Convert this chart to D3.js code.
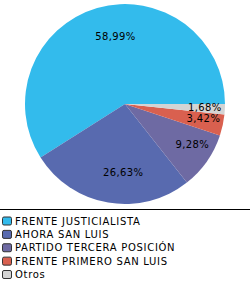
<!DOCTYPE html>
<html>
<head>
<meta charset="utf-8">
<script src="https://cdn.jsdelivr.net/npm/d3@7"></script>
<style>
  body { margin: 0; background: #fff; }
  svg { display: block; }
  text { font-family: Verdana, "DejaVu Sans", sans-serif; font-size: 10px; fill: #000; }
  .slice-label { letter-spacing: 0.4px; }
  .legend-label { letter-spacing: 0.7px; }
</style>
</head>
<body>
<div class="chart"></div>
<script>
// values
const parties = ["FRENTE JUSTICIALISTA", "AHORA SAN LUIS", "PARTIDO TERCERA POSICIÓN", "FRENTE PRIMERO SAN LUIS", "Otros"];
const shares = [58.99, 26.63, 9.28, 3.42, 1.68];
const colors = ["#33bbec", "#586aaf", "#6e6aa3", "#d9604f", "#d4d4d4"];

const width = 250, height = 285;
const cx = 125, cy = 104, radius = 100;

const fmt = v => d3.format(".2f")(v).replace(".", ",") + "%";

const scaleColor = d3.scaleOrdinal().domain(parties).range(colors);

const svg = d3.select(".chart")
    .append("svg")
    .attr("width", width)
    .attr("height", height);

// slices start at 3 o'clock and run counter-clockwise
const pie = d3.pie()
    .sort(null)
    .startAngle(Math.PI / 2)
    .endAngle(Math.PI / 2 - 2 * Math.PI)
    .value(d => d.value);

const arcs = pie(parties.map((p, i) => ({name: p, value: shares[i]})));

const arc = d3.arc().innerRadius(0).outerRadius(radius);
const labelArc = d3.arc().innerRadius(radius * 0.7).outerRadius(radius * 0.7);

const g = svg.append("g")
    .attr("transform", "translate(" + cx + "," + cy + ")");

g.selectAll("path")
    .data(arcs)
    .enter()
    .append("path")
    .attr("d", arc)
    .attr("fill", d => scaleColor(d.data.name));

g.selectAll("text")
    .data(arcs)
    .enter()
    .append("text")
    .attr("class", "slice-label")
    .text(d => fmt(d.data.value))
    .attr("x", d => labelArc.centroid(d)[0] + 10)
    .attr("y", d => labelArc.centroid(d)[1])
    .attr("text-anchor", "middle")
    .attr("dominant-baseline", "central");

// legend
svg.append("line")
    .attr("x1", 0)
    .attr("x2", width)
    .attr("y1", 209.5)
    .attr("y2", 209.5)
    .attr("stroke", "#000")
    .attr("stroke-width", 1);

const legend = svg.append("g")
    .attr("transform", "translate(0,221)");

const rowY = d3.scalePoint().domain(parties).range([0, 53.5]);

legend.selectAll("rect")
    .data(parties)
    .enter()
    .append("rect")
    .attr("x", 2.5)
    .attr("y", d => rowY(d) - 4)
    .attr("width", 9)
    .attr("height", 8)
    .attr("rx", 1.5)
    .attr("fill", d => scaleColor(d))
    .attr("stroke", "#333")
    .attr("stroke-width", 1);

legend.selectAll("text")
    .data(parties)
    .enter()
    .append("text")
    .attr("class", "legend-label")
    .text(d => d)
    .attr("x", 15)
    .attr("y", d => rowY(d))
    .attr("dominant-baseline", "central");
</script>
</body>
</html>
